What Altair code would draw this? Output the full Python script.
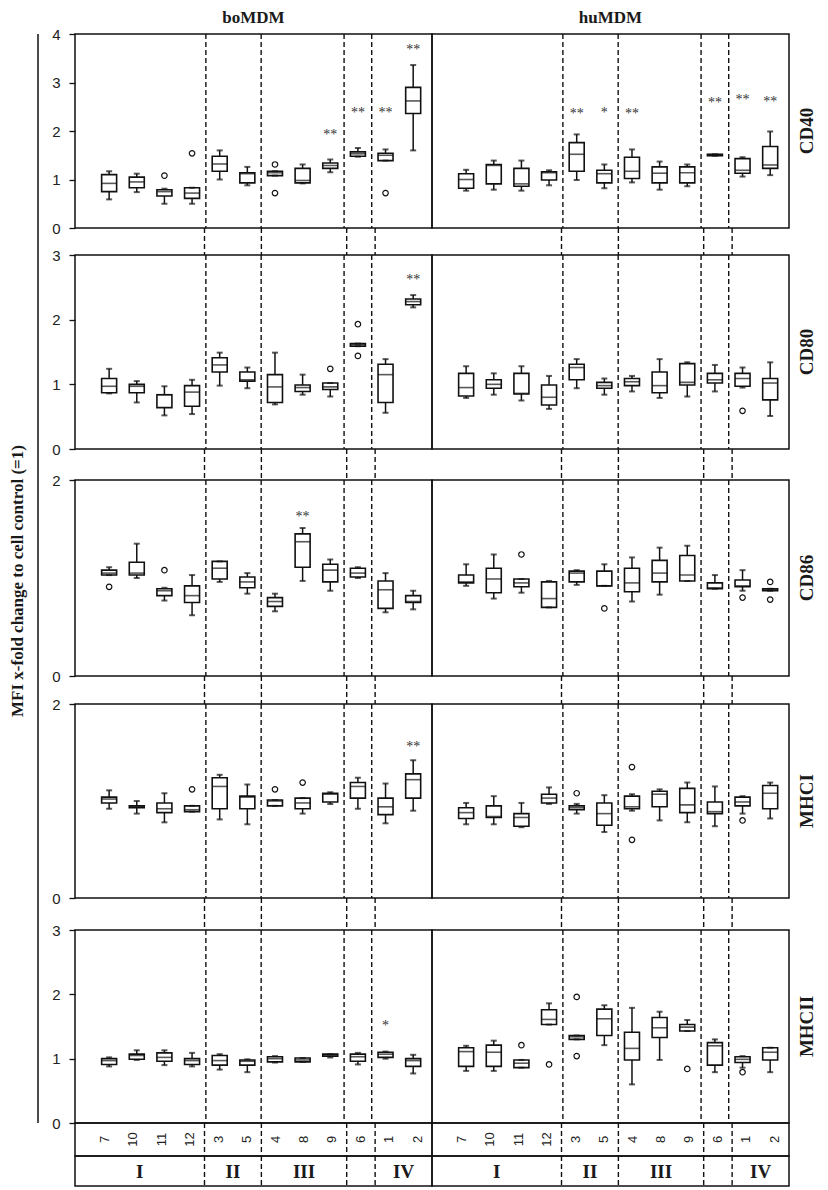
import altair as alt
import pandas as pd

# ---------------- data ----------------
STRAINS = ["7", "10", "11", "12", "3", "5", "4", "8", "9", "6", "1", "2"]
GROUPS = ["I", "II", "III", "IV"]
DIVIDERS = [4.5, 6.5, 9.5, 10.5]
MARKERS = ["CD40", "CD80", "CD86", "MHCI", "MHCII"]
Y_MAX = [4, 3, 2, 2, 3]

# (lower whisker, Q1, median, Q3, upper whisker) per strain, in STRAINS order
CD40_BO = [(0.59, 0.75, 0.92, 1.10, 1.17), (0.74, 0.83, 0.95, 1.05, 1.12), (0.50, 0.66, 0.75, 0.79, 0.81),
           (0.50, 0.61, 0.72, 0.83, 0.83), (1.00, 1.17, 1.32, 1.48, 1.60), (0.88, 0.93, 1.12, 1.14, 1.26),
           (1.08, 1.08, 1.14, 1.17, 1.17), (0.92, 0.93, 0.98, 1.23, 1.31), (1.15, 1.23, 1.29, 1.34, 1.41),
           (1.47, 1.48, 1.53, 1.57, 1.65), (1.39, 1.39, 1.50, 1.54, 1.62), (1.60, 2.36, 2.62, 2.90, 3.36)]
CD40_BO_OUT = [("11", 1.08), ("12", 1.54), ("4", 1.31), ("4", 0.72), ("1", 0.72)]
CD40_BO_STAR = [("9", "**", 1.91), ("6", "**", 2.37), ("1", "**", 2.37), ("2", "**", 3.67)]

CD40_HU = [(0.77, 0.82, 1.00, 1.12, 1.20), (0.79, 0.91, 1.29, 1.31, 1.39), (0.77, 0.86, 0.91, 1.23, 1.39),
           (0.88, 0.99, 1.14, 1.16, 1.19), (0.99, 1.17, 1.52, 1.76, 1.93), (0.82, 0.93, 1.12, 1.19, 1.31),
           (0.94, 1.02, 1.17, 1.46, 1.62), (0.79, 0.93, 1.13, 1.26, 1.37), (0.86, 0.93, 1.14, 1.26, 1.31),
           (1.49, 1.49, 1.51, 1.52, 1.52), (1.06, 1.13, 1.19, 1.43, 1.46), (1.09, 1.23, 1.30, 1.68, 1.99)]
CD40_HU_OUT = []
CD40_HU_STAR = [("3", "**", 2.36), ("5", "*", 2.37), ("4", "**", 2.36), ("6", "**", 2.57),
                ("1", "**", 2.63), ("2", "**", 2.60)]

CD80_BO = [(0.86, 0.87, 0.97, 1.09, 1.24), (0.72, 0.87, 0.97, 1.00, 1.05), (0.52, 0.64, 0.84, 0.84, 0.97),
           (0.54, 0.66, 0.88, 0.98, 1.07), (0.98, 1.19, 1.30, 1.41, 1.49), (0.94, 1.05, 1.07, 1.19, 1.26),
           (0.69, 0.72, 0.96, 1.15, 1.49), (0.84, 0.89, 0.95, 0.99, 1.15), (0.81, 0.92, 0.96, 1.02, 1.02),
           (1.59, 1.59, 1.61, 1.63, 1.63), (0.56, 0.72, 1.15, 1.31, 1.39), (2.19, 2.23, 2.28, 2.32, 2.38)]
CD80_BO_OUT = [("9", 1.24), ("6", 1.93), ("6", 1.44)]
CD80_BO_STAR = [("2", "**", 2.62)]

CD80_HU = [(0.79, 0.82, 0.95, 1.17, 1.28), (0.84, 0.94, 1.00, 1.07, 1.17), (0.75, 0.85, 0.86, 1.17, 1.28),
           (0.62, 0.68, 0.80, 0.99, 1.13), (0.94, 1.07, 1.26, 1.31, 1.39), (0.84, 0.94, 0.98, 1.03, 1.09),
           (0.89, 0.98, 1.04, 1.09, 1.13), (0.79, 0.87, 0.98, 1.19, 1.39), (0.81, 0.99, 1.03, 1.32, 1.34),
           (0.89, 1.02, 1.07, 1.17, 1.30), (0.95, 0.97, 1.09, 1.17, 1.26), (0.51, 0.76, 1.02, 1.09, 1.34)]
CD80_HU_OUT = [("1", 0.59)]
CD80_HU_STAR = []

CD86_BO = [(1.03, 1.03, 1.05, 1.08, 1.11), (1.00, 1.03, 1.05, 1.16, 1.35), (0.77, 0.82, 0.87, 0.89, 0.90),
           (0.62, 0.75, 0.82, 0.92, 1.03), (0.96, 0.99, 1.10, 1.17, 1.17), (0.84, 0.90, 0.96, 1.01, 1.05),
           (0.66, 0.71, 0.76, 0.80, 0.84), (0.97, 1.11, 1.37, 1.45, 1.51), (0.87, 0.96, 1.08, 1.14, 1.19),
           (1.00, 1.01, 1.05, 1.10, 1.11), (0.65, 0.69, 0.88, 0.97, 1.05), (0.68, 0.75, 0.76, 0.82, 0.87)]
CD86_BO_OUT = [("7", 0.91), ("11", 1.08)]
CD86_BO_STAR = [("8", "**", 1.62)]

CD86_HU = [(0.92, 0.95, 0.96, 1.03, 1.14), (0.79, 0.85, 0.99, 1.10, 1.24), (0.85, 0.91, 0.95, 0.99, 0.99),
           (0.70, 0.70, 0.79, 0.96, 0.97), (0.93, 0.96, 1.05, 1.07, 1.08), (0.92, 0.92, 0.92, 1.07, 1.14),
           (0.76, 0.86, 0.95, 1.10, 1.21), (0.83, 0.96, 1.05, 1.18, 1.31), (0.97, 0.97, 1.03, 1.23, 1.33),
           (0.89, 0.89, 0.90, 0.95, 1.03), (0.87, 0.91, 0.92, 0.98, 1.08), (0.87, 0.87, 0.88, 0.89, 0.89)]
CD86_HU_OUT = [("11", 1.24), ("5", 0.69), ("1", 0.80), ("2", 0.96), ("2", 0.78)]
CD86_HU_STAR = []

MHCI_BO = [(0.92, 0.98, 1.02, 1.04, 1.11), (0.87, 0.93, 0.94, 0.95, 1.00), (0.78, 0.88, 0.92, 0.98, 1.08),
           (0.89, 0.89, 0.91, 0.95, 0.95), (0.81, 0.92, 1.15, 1.24, 1.27), (0.76, 0.92, 1.04, 1.05, 1.17),
           (0.95, 0.95, 1.00, 1.01, 1.01), (0.87, 0.92, 0.98, 1.03, 1.03), (0.97, 0.99, 1.07, 1.08, 1.09),
           (0.92, 1.03, 1.15, 1.19, 1.24), (0.77, 0.86, 0.94, 1.03, 1.18), (0.90, 1.03, 1.22, 1.28, 1.42)]
MHCI_BO_OUT = [("12", 1.12), ("4", 1.12), ("8", 1.19)]
MHCI_BO_STAR = [("2", "**", 1.56)]

MHCI_HU = [(0.76, 0.82, 0.88, 0.93, 0.98), (0.76, 0.83, 0.84, 0.95, 1.05), (0.73, 0.74, 0.83, 0.87, 0.98),
           (0.97, 0.98, 1.03, 1.07, 1.14), (0.87, 0.91, 0.93, 0.95, 0.97), (0.68, 0.75, 0.87, 0.98, 1.06),
           (0.90, 0.92, 0.94, 1.05, 1.07), (0.80, 0.94, 1.07, 1.10, 1.12), (0.78, 0.88, 0.96, 1.13, 1.19),
           (0.74, 0.87, 0.89, 0.99, 1.15), (0.87, 0.95, 0.99, 1.04, 1.05), (0.82, 0.92, 1.08, 1.16, 1.19)]
MHCI_HU_OUT = [("3", 1.08), ("4", 1.35), ("4", 0.60), ("1", 0.80)]
MHCI_HU_STAR = []

MHCII_BO = [(0.88, 0.91, 0.97, 1.00, 1.02), (0.98, 0.99, 1.05, 1.07, 1.13), (0.90, 0.96, 1.02, 1.09, 1.13),
            (0.88, 0.91, 0.97, 1.00, 1.09), (0.83, 0.90, 0.97, 1.05, 1.07), (0.79, 0.90, 0.96, 0.98, 0.99),
            (0.94, 0.95, 1.00, 1.03, 1.04), (0.95, 0.95, 0.98, 1.01, 1.01), (1.02, 1.04, 1.06, 1.07, 1.07),
            (0.91, 0.96, 1.03, 1.07, 1.09), (1.00, 1.02, 1.07, 1.10, 1.11), (0.77, 0.88, 0.97, 1.00, 1.06)]
MHCII_BO_OUT = []
MHCII_BO_STAR = [("1", "*", 1.51)]

MHCII_HU = [(0.81, 0.88, 1.11, 1.17, 1.20), (0.81, 0.88, 1.10, 1.21, 1.28), (0.86, 0.86, 0.93, 0.98, 0.98),
            (1.53, 1.53, 1.61, 1.76, 1.86), (1.30, 1.30, 1.34, 1.36, 1.36), (1.21, 1.36, 1.62, 1.77, 1.83),
            (0.60, 0.98, 1.16, 1.41, 1.79), (0.98, 1.33, 1.48, 1.64, 1.73), (1.43, 1.43, 1.49, 1.53, 1.60),
            (0.79, 0.90, 1.20, 1.25, 1.30), (0.86, 0.94, 0.99, 1.03, 1.04), (0.79, 0.98, 1.10, 1.17, 1.17)]
MHCII_HU_OUT = [("11", 1.21), ("12", 0.91), ("3", 1.96), ("3", 1.04), ("9", 0.84), ("1", 0.79)]
MHCII_HU_STAR = []

BO = [(CD40_BO, CD40_BO_OUT, CD40_BO_STAR), (CD80_BO, CD80_BO_OUT, CD80_BO_STAR),
      (CD86_BO, CD86_BO_OUT, CD86_BO_STAR), (MHCI_BO, MHCI_BO_OUT, MHCI_BO_STAR),
      (MHCII_BO, MHCII_BO_OUT, MHCII_BO_STAR)]
HU = [(CD40_HU, CD40_HU_OUT, CD40_HU_STAR), (CD80_HU, CD80_HU_OUT, CD80_HU_STAR),
      (CD86_HU, CD86_HU_OUT, CD86_HU_STAR), (MHCI_HU, MHCI_HU_OUT, MHCI_HU_STAR),
      (MHCII_HU, MHCII_HU_OUT, MHCII_HU_STAR)]

# ---------------- layout / style ----------------
W = 357
PANEL_H = [194, 194, 196, 194, 193]
GAP_H = [27, 31, 28, 32]
NUM_H = 33
GRP_H = 30
X0, X1 = -0.054, 12.5
SERIF = "Liberation Serif"
SANS = "Liberation Sans"
INK = "#111111"
TXT = "#1a1a1a"

xscale = alt.Scale(domain=[X0, X1], nice=False, zero=False)
POS = {s: i + 1 for i, s in enumerate(STRAINS)}


def xenc(field="pos"):
    return alt.X(f"{field}:Q", scale=xscale, axis=None)


def dividers():
    return alt.Chart(pd.DataFrame({"x": DIVIDERS})).mark_rule(
        color=INK, strokeWidth=1.4, strokeDash=[5, 3]
    ).encode(x=xenc("x"))


def long_line(h):
    return alt.Chart(pd.DataFrame({"a": [0]})).mark_rule(color=INK, strokeWidth=1.5).encode(
        x=alt.value(-37), y=alt.value(0), y2=alt.value(h)
    )


def panel(stats, outs, stars, ymax, h, left, row_label, col_title, ytitle):
    df = pd.DataFrame(stats, columns=["low", "q1", "med", "q3", "high"])
    df["pos"] = list(range(1, 13))
    ys = alt.Scale(domain=[0, ymax], nice=False, zero=True)
    if left:
        ax = alt.Axis(values=list(range(0, ymax + 1)), title=None, grid=False, domain=False,
                      ticks=True, tickSize=6, tickColor=INK, tickWidth=1.3, labelFont=SANS,
                      labelFontSize=15, labelColor="#222222", labelPadding=9, format="d")
    else:
        ax = None

    def Y(f):
        return alt.Y(f"{f}:Q", scale=ys, axis=ax)

    base = alt.Chart(df)
    layers = [dividers()]
    layers.append(base.mark_rule(color=INK, strokeWidth=1.5).encode(x=xenc(), y=Y("low"), y2="high:Q"))
    layers.append(base.mark_bar(size=15, fill="white", stroke=INK, strokeWidth=1.6).encode(
        x=xenc(), y=Y("q1"), y2="q3:Q"))
    layers.append(base.mark_tick(orient="horizontal", size=15, thickness=1.6, color=INK).encode(
        x=xenc(), y=Y("med")))
    layers.append(base.mark_tick(orient="horizontal", size=6, thickness=2, color=INK).encode(
        x=xenc(), y=Y("low")))
    layers.append(base.mark_tick(orient="horizontal", size=6, thickness=2, color=INK).encode(
        x=xenc(), y=Y("high")))
    if outs:
        odf = pd.DataFrame({"pos": [POS[s] for s, _ in outs], "v": [v for _, v in outs]})
        layers.append(alt.Chart(odf).mark_point(shape="circle", filled=False, size=30, color=INK,
                                                strokeWidth=1.2, opacity=1).encode(x=xenc(), y=Y("v")))
    if stars:
        sdf = pd.DataFrame({"pos": [POS[s] for s, _, _ in stars], "t": [t for _, t, _ in stars],
                            "v": [v for _, _, v in stars]})
        layers.append(alt.Chart(sdf).mark_text(font=SERIF, fontSize=14, baseline="middle").encode(
            x=xenc(), y=Y("v"), text="t:N", color=alt.value("#333333")))
    if left:
        layers.append(long_line(h))
    if row_label:
        layers.append(alt.Chart(pd.DataFrame({"t": [row_label]})).mark_text(
            font=SERIF, fontSize=19, fontWeight="bold", angle=270,
            baseline="middle", align="center").encode(
            x=alt.value(W + 18), y=alt.value(h / 2), text="t:N", color=alt.value(TXT)))
    if col_title:
        layers.append(alt.Chart(pd.DataFrame({"t": [col_title]})).mark_text(
            font=SERIF, fontSize=17, fontWeight="bold",
            baseline="middle", align="center").encode(
            x=alt.value(W / 2), y=alt.value(-16), text="t:N", color=alt.value(TXT)))
    if ytitle:
        layers.append(alt.Chart(pd.DataFrame({"t": [ytitle]})).mark_text(
            font=SERIF, fontSize=17, fontWeight="bold", angle=270,
            baseline="middle", align="center").encode(
            x=alt.value(-57), y=alt.value(101), text="t:N", color=alt.value(TXT)))
    return alt.layer(*layers).properties(width=W, height=h)


def gap(h, left):
    layers = [dividers()]
    if left:
        layers.append(long_line(h))
    return alt.layer(*layers).properties(width=W, height=h, view=alt.ViewBackground(stroke="transparent"))


def number_row():
    df = pd.DataFrame({"pos": list(range(1, 13)), "s": STRAINS})
    txt = alt.Chart(df).mark_text(font=SANS, fontSize=13, angle=270,
                                  baseline="middle", align="center").encode(
        x=xenc(), y=alt.value(NUM_H / 2), text="s:N", color=alt.value("#222222"))
    return alt.layer(dividers(), txt).properties(width=W, height=NUM_H)


def group_row():
    bounds = [(X0, DIVIDERS[0]), (DIVIDERS[0], DIVIDERS[1]), (DIVIDERS[1], DIVIDERS[2]), (DIVIDERS[3], X1)]
    df = pd.DataFrame({"pos": [(a + b) / 2 for a, b in bounds], "g": GROUPS})
    txt = alt.Chart(df).mark_text(font=SERIF, fontSize=19, fontWeight="bold",
                                  baseline="middle", align="center").encode(
        x=xenc(), y=alt.value(GRP_H / 2 + 1), text="g:N", color=alt.value(TXT))
    return alt.layer(dividers(), txt).properties(width=W, height=GRP_H)


cells = []
for r in range(5):
    sb, ob, stb = BO[r]
    sh, oh, sth = HU[r]
    cells.append(panel(sb, ob, stb, Y_MAX[r], PANEL_H[r], True, None,
                       "boMDM" if r == 0 else None,
                       "MFI x-fold change to cell control (=1)" if r == 2 else None))
    cells.append(panel(sh, oh, sth, Y_MAX[r], PANEL_H[r], False, MARKERS[r],
                       "huMDM" if r == 0 else None, None))
    if r < 4:
        cells.append(gap(GAP_H[r], True))
        cells.append(gap(GAP_H[r], False))
cells.append(number_row())
cells.append(number_row())
cells.append(group_row())
cells.append(group_row())

chart = alt.concat(*cells, columns=2, spacing=0, bounds="flush").resolve_scale(
    x="independent", y="independent"
).properties(
    padding={"left": 0, "top": 0, "right": 0, "bottom": 0}
).configure_view(stroke=INK, strokeWidth=1.5)

chart.save("out.html", embed_options={"renderer": "svg", "actions": False})
